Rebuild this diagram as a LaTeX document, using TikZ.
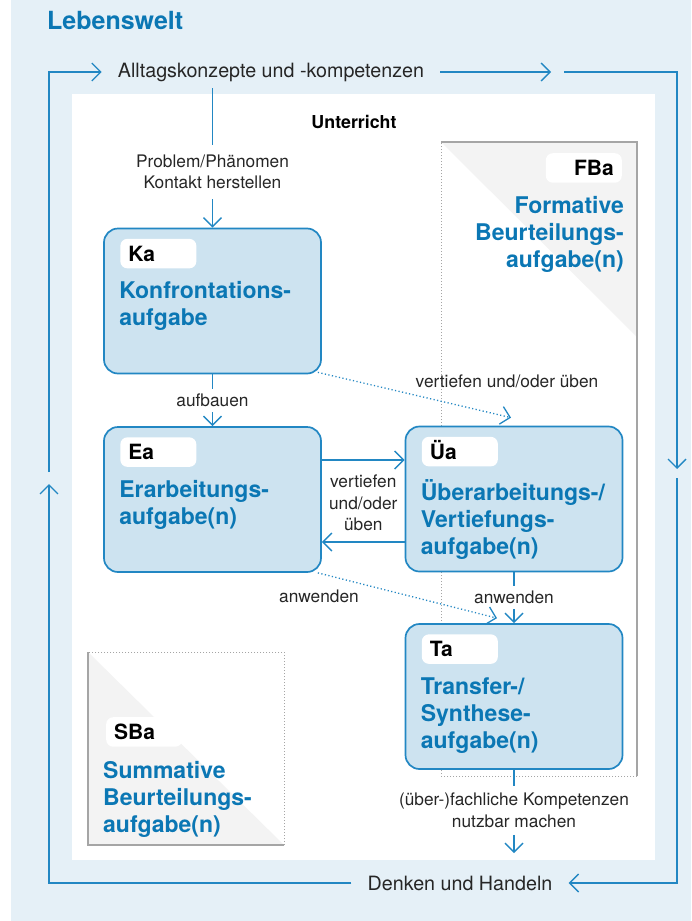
\documentclass[tikz,border=0pt]{standalone}
\usepackage{fontspec}
\setmainfont{TeX Gyre Heros}
\usetikzlibrary{arrows.meta,calc}

\definecolor{bgblue}{HTML}{E5F0F7}
\definecolor{boxfill}{HTML}{CDE3F0}
\definecolor{lineblue}{HTML}{2287C3}
\definecolor{titleblue}{HTML}{0B77B4}
\definecolor{assessfill}{HTML}{F3F3F3}
\definecolor{assessline}{HTML}{A5A5A5}

\tikzset{
  flow/.style={draw=lineblue,line width=1.4pt},
  dotflow/.style={draw=lineblue,line width=1.3pt,dash pattern=on 1.2pt off 2.4pt},
  arr/.style={-{Straight Barb[length=9pt,width=18pt]}},
  taskbox/.style={rectangle,rounded corners=14pt,draw=lineblue,line width=1.7pt,
    fill=boxfill,minimum width=217pt,minimum height=145pt,inner sep=0pt},
  tagbox/.style={fill=white,rounded corners=7pt,text=black,
    font=\fontsize{21}{25}\selectfont\bfseries,text width=60pt,align=left,
    inner xsep=8pt,inner ysep=0pt,text height=15pt,text depth=0pt,minimum height=29.5pt},
  tasktitle/.style={text=titleblue,font=\fontsize{23}{27}\selectfont\bfseries,
    align=left,inner sep=0pt,execute at begin node={\rule{0pt}{22pt}}},
  lbl/.style={text=black!85,font=\fontsize{17.3}{21.5}\selectfont,align=center,
    inner xsep=3pt,inner ysep=5pt},
  outerlbl/.style={text=black!85,font=\fontsize{19.7}{24}\selectfont,inner xsep=16pt},
  assessdots/.style={draw=assessline,line width=1pt,dash pattern=on 1pt off 2pt},
  assessborder/.style={draw=assessline,line width=1.5pt}
}

\begin{document}
\begin{tikzpicture}[x=1pt,y=-1pt]
\useasboundingbox (0,0) rectangle (691,921);
% Lebenswelt and Unterricht
\fill[bgblue] (11,0) rectangle (691,921);
\fill[white] (72,94) rectangle (655,860);
\node[anchor=west,inner sep=0pt,text=titleblue,font=\fontsize{25}{30}\selectfont\bfseries] (lebenswelt) at (47,20) {Lebenswelt};
\node[font=\fontsize{17.8}{21}\selectfont\bfseries] (unterricht) at (354,122) {Unterricht};

% formative assessment
\fill[assessfill] (441,142) -- (637,142) -- (637,337) -- cycle;
\draw[assessborder] (441,142) -- (637,142) -- (637,776);
\draw[assessdots] (637,776) -- (441,776) -- (441,142);
\node[tagbox,align=right,anchor=north east] (fba-tag) at (622,153) {FBa};
\node[tasktitle,align=right,anchor=north east] (fba-title) at (624,196) {Formative\\Beurteilungs-\\aufgabe(n)};

% summative assessment
\fill[assessfill] (88,652) -- (88,845) -- (284,845) -- cycle;
\draw[assessborder] (88,652) -- (88,845) -- (284,845);
\draw[assessdots] (284,845) -- (284,652) -- (88,652);
\node[tagbox,anchor=north west] (sba-tag) at (106,717) {SBa};
\node[tasktitle,anchor=north west] (sba-title) at (103,761) {Summative\\Beurteilungs-\\aufgabe(n)};

% tasks
\node[taskbox] (ka) at (212.5,301) {};
\node[tagbox,anchor=north west] (ka-tag) at ($(ka.north west)+(17,11)$) {Ka};
\node[tasktitle,anchor=north west] (ka-title) at ($(ka.north west)+(16,54)$) {Konfrontations-\\aufgabe};

\node[taskbox] (ea) at (212.5,499.5) {};
\node[tagbox,anchor=north west] (ea-tag) at ($(ea.north west)+(17,11)$) {Ea};
\node[tasktitle,anchor=north west] (ea-title) at ($(ea.north west)+(16,54)$) {Erarbeitungs-\\aufgabe(n)};

\node[taskbox] (ua) at (514,499) {};
\node[tagbox,anchor=north west] (ua-tag) at ($(ua.north west)+(17,11)$) {Üa};
\node[tasktitle,anchor=north west] (ua-title) at ($(ua.north west)+(16,54)$) {Überarbeitungs-/\\Vertiefungs-\\aufgabe(n)};

\node[taskbox] (ta) at (514,696.5) {};
\node[tagbox,anchor=north west] (ta-tag) at ($(ta.north west)+(17,11)$) {Ta};
\node[tasktitle,anchor=north west] (ta-title) at ($(ta.north west)+(16,54)$) {Transfer-/\\Synthese-\\aufgabe(n)};

% connectors inside
\coordinate (ka-in) at (212.5,88);
\node[lbl,inner ysep=10pt] (problem) at (212.5,172) {Problem/Phänomen\\Kontakt herstellen};
\draw[flow] (ka-in) -- (problem.north);
\draw[flow,arr] (problem.south) -- (ka.north);
\draw[flow,arr] (ka.south) -- node[lbl,fill=white] (aufbauen) {aufbauen} (ea.north);

\draw[flow,arr] ($(ea.east)+(0,-39.5)$) -- ($(ua.west)+(0,-39)$);
\draw[flow,arr] ($(ua.west)+(0,43)$) -- ($(ea.east)+(0,42.5)$);
\node[lbl] (vertiefen) at ($(ea.east)!0.5!(ua.west)+(0,4)$) {vertiefen\\und/oder\\üben};

\draw[flow,arr] (ua.south) -- node[lbl,fill=white] (anwenden-ua) {anwenden} (ta.north);

\coordinate (ua-in) at ($(ua.north)+(-3,-8)$);
\draw[dotflow,arr] ($(ka.south east)+(-4,-2)$) -- (ua-in);
\node[lbl] (vertiefen-ka) at (507,381) {vertiefen und/oder üben};

\coordinate (ta-in) at ($(ta.north)+(-17,-5)$);
\draw[dotflow,arr] ($(ea.south east)+(-4,0)$) -- (ta-in);
\node[lbl] (anwenden-ea) at (319,596) {anwenden};

\node[lbl,inner ysep=7pt] (kompetenzen) at (514,810.5) {(über-)fachliche Kompetenzen\\nutzbar machen};
\coordinate (ta-out) at (514,853);
\draw[flow] (ta.south) -- (kompetenzen.north);
\draw[flow,arr] (kompetenzen.south) -- (ta-out);

% outer loop
\node[outerlbl] (alltag) at (271,72) {Alltagskonzepte und -kompetenzen};
\node[outerlbl] (denken) at (460,883) {Denken und Handeln};
\coordinate (tl) at (49,72);
\coordinate (tr) at (677,72);
\coordinate (br) at (677,883);
\coordinate (bl) at (49,883);
\coordinate (top-a) at (551,72);
\coordinate (top-b) at (564,72);
\coordinate (right-a) at (677,469);
\coordinate (right-b) at (677,478);
\coordinate (left-a) at (49,472);
\coordinate (left-b) at (49,484);
\draw[flow,arr] (left-a) -- (tl) -- (alltag.west);
\draw[flow,arr] (alltag.east) -- (top-a);
\draw[flow,arr] (top-b) -- (tr) -- (right-a);
\draw[flow,arr] (right-b) -- (br) -- (denken.east);
\draw[flow,arr] (denken.west) -- (bl) -- (left-b);
\end{tikzpicture}
\end{document}
